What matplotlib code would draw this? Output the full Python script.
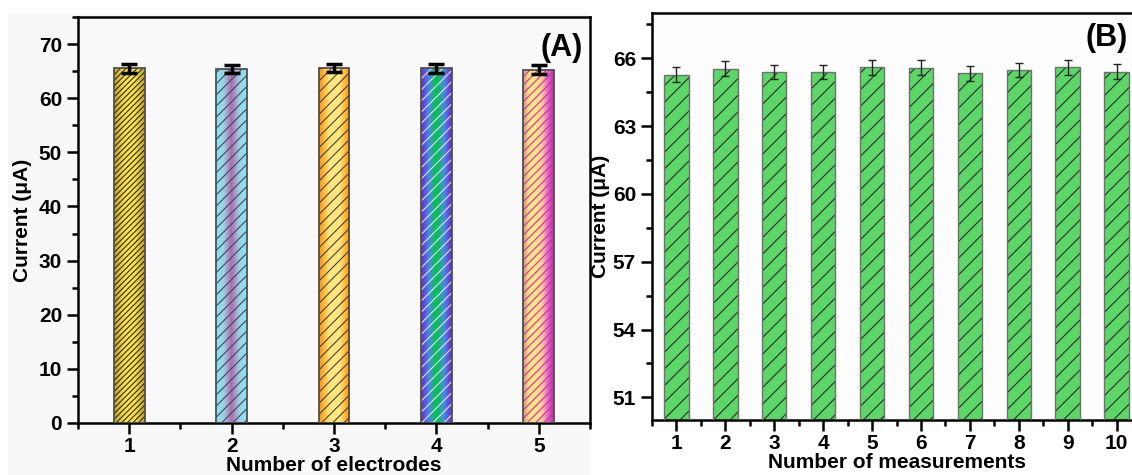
import numpy as np
import matplotlib
matplotlib.use("Agg")
import matplotlib.pyplot as plt
from matplotlib.colors import LinearSegmentedColormap
from matplotlib.patches import Rectangle
from matplotlib.ticker import MultipleLocator

plt.rcParams['font.family'] = ['Liberation Sans', 'DejaVu Sans']
plt.rcParams['font.weight'] = 'bold'
plt.rcParams['hatch.linewidth'] = 0.8

# panel A data
electrodes = [1, 2, 3, 4, 5]
current_a = [65.5, 65.4, 65.6, 65.5, 65.3]
err_a = [0.8, 0.8, 0.8, 0.8, 0.8]

# panel B data
measurements = [1, 2, 3, 4, 5, 6, 7, 8, 9, 10]
current_b = [65.28, 65.54, 65.39, 65.39, 65.61, 65.58, 65.33, 65.48, 65.60, 65.40]
err_b = [0.33, 0.33, 0.33, 0.33, 0.33, 0.33, 0.33, 0.33, 0.33, 0.33]

# gradient stops, hatch colour and hatch pattern for each bar in A
grad_a = [
    ['#c2a428', '#ffe43c', '#ffe43c', '#c2a428'],
    ['#88e6f4', '#9cd0e4', '#b06aae', '#9cd0e4', '#88e6f4'],
    ['#ff9400', '#ffe680', '#ffe680', '#ff9400'],
    ['#6a28d0', '#4a88e8', '#00c83a', '#4a88e8', '#6a28d0'],
    ['#c89a78', '#ffe880', '#ffe880', '#ffd890', '#e070c0', '#c42aa8'],
]
hatch_col_a = ['#2a2a2a', '#3c4a5a', '#4a4030', '#d8e4ff', '#e020c0']
hatch_a = ['//////', '///', '///', '///', '////']

fig = plt.figure(figsize=(11.32, 4.75), dpi=100)
fig.patch.set_facecolor('white')
fig.patches.append(Rectangle((8 / 1132, 0), 582 / 1132, 1 - 13 / 475,
                             transform=fig.transFigure, facecolor='#f8f8f8',
                             edgecolor='none', zorder=-10))

# ---- panel A ----
ax1 = fig.add_axes([78 / 1132, 1 - 423 / 475, 512 / 1132, 406 / 475])
ax1.set_facecolor('#f9f9f9')
w = 0.3
for i, (x, v) in enumerate(zip(electrodes, current_a)):
    cmap = LinearSegmentedColormap.from_list('g%d' % i, grad_a[i])
    rect = ax1.bar(x, v, w, color='none', linewidth=0, zorder=2)[0]
    im = ax1.imshow(np.linspace(0, 1, 64).reshape(1, -1), cmap=cmap,
                    extent=(x - w / 2, x + w / 2, 0, v), aspect='auto',
                    interpolation='bilinear', zorder=2)
    im.set_clip_path(rect)
    ax1.bar(x, v, w, facecolor='none', edgecolor=hatch_col_a[i],
            hatch=hatch_a[i], linewidth=0, zorder=3)
    ax1.bar(x, v, w, facecolor='none', edgecolor='#505050', linewidth=1.3, zorder=4)
ax1.errorbar(electrodes, current_a, yerr=err_a, fmt='none', ecolor='black',
             elinewidth=2.5, capsize=6, capthick=2.5, zorder=5)
ax1.set_xlim(0.5, 5.5)
ax1.set_ylim(0, 75)
ax1.set_xticks(electrodes)
ax1.set_yticks([0, 10, 20, 30, 40, 50, 60, 70])
ax1.xaxis.set_minor_locator(MultipleLocator(0.5))
ax1.yaxis.set_minor_locator(MultipleLocator(5))
ax1.tick_params(which='both', direction='out', width=1.8, labelsize=15,
                top=False, right=False)
ax1.tick_params(which='major', length=8)
ax1.tick_params(which='minor', length=4)
ax1.tick_params(axis='x', pad=2)
for s in ax1.spines.values():
    s.set_linewidth(1.8)
ax1.set_xlabel('Number of electrodes', fontsize=15, fontweight='bold', labelpad=0)
ax1.set_ylabel('Current (μA)', fontsize=15, fontweight='bold', labelpad=5)
ax1.text(0.985, 0.96, '(A)', transform=ax1.transAxes, ha='right', va='top',
         fontsize=22, fontweight='bold')

# ---- panel B ----
ax2 = fig.add_axes([652 / 1132, 1 - 420 / 475, 489 / 1132, 407 / 475])
ax2.set_facecolor('#fdfdfd')
ax2.bar(measurements, current_b, 0.5, color='#5cd666', linewidth=0, zorder=2)
ax2.bar(measurements, current_b, 0.5, facecolor='none', edgecolor='#2a2a2a',
        hatch='//', linewidth=0, zorder=3)
ax2.bar(measurements, current_b, 0.5, facecolor='none', edgecolor='#707070',
        linewidth=1.0, zorder=4)
ax2.errorbar(measurements, current_b, yerr=err_b, fmt='none', ecolor='#222222',
             elinewidth=1.0, capsize=3, capthick=1.0, zorder=5)
ax2.set_xlim(0.5, 10.5)
ax2.set_ylim(50, 68)
ax2.set_xticks(measurements)
ax2.set_yticks([51, 54, 57, 60, 63, 66])
ax2.xaxis.set_minor_locator(MultipleLocator(0.5))
ax2.yaxis.set_minor_locator(MultipleLocator(1.5))
ax2.tick_params(which='both', direction='out', width=1.8, labelsize=15,
                top=False, right=False)
ax2.tick_params(which='major', length=8)
ax2.tick_params(which='minor', length=4)
ax2.tick_params(axis='x', pad=2)
for s in ax2.spines.values():
    s.set_linewidth(1.8)
ax2.set_xlabel('Number of measurements', fontsize=15, fontweight='bold', labelpad=0)
ax2.set_ylabel('Current (μA)', fontsize=15, fontweight='bold', labelpad=2)
fig.text(1107 / 1132, 1 - 38 / 475, '(B)', ha='center', va='center',
         fontsize=22, fontweight='bold')

fig.savefig('out.png', dpi=100, facecolor=fig.get_facecolor())
